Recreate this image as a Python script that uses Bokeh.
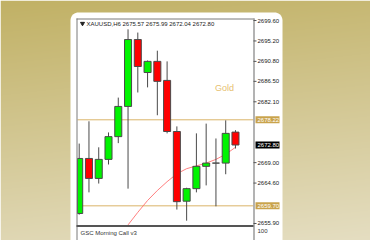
import numpy as np
from bokeh.plotting import figure
from bokeh.models import Range1d
from bokeh.embed import file_html
from bokeh.resources import INLINE
from bokeh.core.properties import value

# ---------------- data ----------------
symbol = "XAUUSD,H6"
opens  = [2658.05, 2669.9, 2665.6, 2669.7, 2674.6, 2681.1, 2695.5, 2688.4, 2690.8,
          2686.7, 2675.7, 2660.7, 2663.4, 2668.2, 2668.9, 2668.9, 2675.57]
highs  = [2673.1, 2677.9, 2672.3, 2675.5, 2683.0, 2697.7, 2697.0, 2691.0, 2693.1,
          2690.8, 2676.8, 2663.6, 2675.3, 2677.4, 2674.2, 2678.1, 2675.99]
lows   = [2657.8, 2662.6, 2664.5, 2668.6, 2673.2, 2663.4, 2684.1, 2685.2, 2679.2,
          2675.3, 2658.9, 2656.5, 2662.6, 2664.1, 2659.6, 2666.5, 2672.04]
closes = [2669.9, 2665.6, 2669.7, 2674.6, 2681.1, 2695.5, 2689.7, 2690.8, 2686.5,
          2675.7, 2660.6, 2663.4, 2668.2, 2668.9, 2668.9, 2675.3, 2672.80]
ma_idx  = [5, 6, 7, 8, 9, 10, 11, 12, 13, 14, 15, 16]
ma_vals = [2655.6, 2658.3, 2660.85, 2663.0, 2664.9, 2666.6, 2667.7, 2668.3,
           2668.9, 2669.7, 2670.8, 2672.3]
level_lines = [2678.22, 2659.70]
axis_ticks = [2699.60, 2695.20, 2690.80, 2686.50, 2682.10, 2669.00, 2664.60, 2655.90]
sub_title = "GSC Morning Call v3"
sub_max = "100"
chart_label = "Gold"

# ---------------- layout (pixels) ----------------
W, H = 370, 240
PX_L, PX_R, PY_T, PY_B = 77, 253, 19, 225
X0, DX = 78.7, 9.767          # candle 0 centre, candle spacing
Y0, PTOP, K = 20.0, 2699.6, 4.645   # pixel y of PTOP, px per price unit
BODY_W = 0.72

p = figure(width=W, height=H, x_range=Range1d(0, W), y_range=Range1d(H, 0),
           x_axis_type=None, y_axis_type=None, toolbar_location=None,
           output_backend="svg", min_border=0, outline_line_color=None)
p.grid.visible = False
p.background_fill_color = "white"
p.border_fill_color = "white"
p.extra_x_ranges = {"idx": Range1d(-X0 / DX, (W - X0) / DX)}
p.extra_y_ranges = {"price": Range1d(PTOP - (H - Y0) / K, PTOP + Y0 / K)}

# background gradient
yy, xx = np.mgrid[0:H, 0:W]
t = np.clip(0.85 * yy / H + 0.15 * xx / W, 0, 1)
top = np.array([193, 177, 101]); bot = np.array([229, 222, 194])
img = np.empty((H, W), dtype=np.uint32)
v = img.view(dtype=np.uint8).reshape((H, W, 4))
for c in range(3):
    v[:, :, c] = (top[c] + (bot[c] - top[c]) * t).astype(np.uint8)
v[:, :, 3] = 255
p.image_rgba(image=[img], x=0, y=0, dw=W, dh=H)

# white card with rounded top corners
r = 8
cx0, cx1, cy0, cy1 = 70, 282, 12, 250
ang = np.linspace(np.pi, 1.5 * np.pi, 10)
xs = list(cx0 + r + r * np.cos(ang))
ys = list(cy0 + r + r * np.sin(ang))
ang2 = np.linspace(1.5 * np.pi, 2 * np.pi, 10)
xs += list(cx1 - r + r * np.cos(ang2))
ys += list(cy0 + r + r * np.sin(ang2))
xs += [cx1, cx0]; ys += [cy1, cy1]
p.patch(xs, ys, fill_color="white", line_color=None)

# level lines
p.segment(x0=[PX_L] * len(level_lines), x1=[PX_R] * len(level_lines),
          y0=level_lines, y1=level_lines, y_range_name="price",
          line_color="#dab468", line_width=1)

# MA line
p.line(ma_idx, ma_vals, x_range_name="idx", y_range_name="price",
       line_color="#ff7070", line_width=0.9)

# candles
idx = np.arange(len(opens))
left_lim = (PX_L - X0) / DX
p.segment(x0=idx, x1=idx, y0=lows, y1=highs, x_range_name="idx",
          y_range_name="price", line_color="#4a4a4a", line_width=1)
bl = np.maximum(idx - BODY_W / 2, left_lim)
br = idx + BODY_W / 2
colors = ["#00f400" if c > o else ("#ff0000" if c < o else "#4a4a4a")
          for o, c in zip(opens, closes)]
p.quad(left=bl, right=br, top=np.maximum(opens, closes),
       bottom=np.minimum(opens, closes), x_range_name="idx",
       y_range_name="price", fill_color=colors, line_color="#4a4a4a",
       line_width=1)

# frame lines
p.segment(x0=[PX_L - 1, PX_L - 0.5], x1=[PX_R + 1, PX_L - 0.5],
          y0=[PY_T - 0.5, PY_T - 1], y1=[PY_T - 0.5, H],
          line_color="#7a7a7a", line_width=1)
p.segment(x0=[PX_R + 0.5], x1=[PX_R + 0.5], y0=[PY_T - 1], y1=[H],
          line_color="#a0a0a0", line_width=1.6)
p.segment(x0=[PX_L - 1], x1=[PX_R], y0=[PY_B + 0.5], y1=[PY_B + 0.5],
          line_color="#555555", line_width=2)

FONT = value("Liberation Sans")
FS = "6px"
# price axis ticks & labels
p.segment(x0=[PX_R] * len(axis_ticks), x1=[PX_R + 3] * len(axis_ticks),
          y0=axis_ticks, y1=axis_ticks, y_range_name="price",
          line_color="#555555", line_width=1)
p.text(x=[PX_R + 4] * len(axis_ticks), y=axis_ticks,
       text=["%.2f" % t_ for t_ in axis_ticks], y_range_name="price",
       text_font=FONT, text_font_size=FS, text_color="#222222",
       text_align="left", text_baseline="middle")

# level labels
p.rect(x=[PX_R + 14] * 2, y=level_lines, width=24, height=7,
       height_units="screen", y_range_name="price",
       fill_color="#c9a34c", line_color=None)
p.text(x=[PX_R + 4] * 2, y=level_lines, text=["%.2f" % t_ for t_ in level_lines],
       y_range_name="price", text_font=FONT, text_font_size=FS,
       text_color="white", text_align="left", text_baseline="middle")
p.rect(x=[PX_R + 14], y=[closes[-1]], width=24, height=7,
       height_units="screen", y_range_name="price",
       fill_color="#000000", line_color=None)
p.text(x=[PX_R + 4], y=[closes[-1]], text=["%.2f" % closes[-1]],
       y_range_name="price", text_font=FONT, text_font_size=FS,
       text_color="white", text_align="left", text_baseline="middle")

# title
p.scatter(x=[82], y=[23], marker="inverted_triangle", size=4,
          color="#222222")
title = symbol + " " + " ".join("%.2f" % v_ for v_ in
                                (opens[-1], highs[-1], lows[-1], closes[-1]))
p.text(x=[86], y=[23], text=[title], text_font=FONT, text_font_size=FS,
       text_color="#222222", text_align="left", text_baseline="middle")

# chart label
p.text(x=[224], y=[87], text=[chart_label], text_font=value("Liberation Sans"),
       text_font_size="9px", text_color="#e6c070", text_align="center",
       text_baseline="middle")

# sub window texts
p.text(x=[80], y=[232.5], text=[sub_title], text_font=FONT,
       text_font_size=FS, text_color="#333333", text_align="left",
       text_baseline="middle")
p.text(x=[PX_R + 4], y=[230], text=[sub_max], text_font=FONT,
       text_font_size=FS, text_color="#333333", text_align="left",
       text_baseline="middle")

open("out.html", "w").write(file_html(p, INLINE))
